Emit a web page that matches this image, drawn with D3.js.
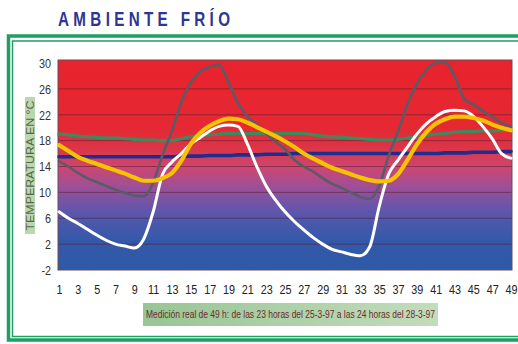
<!DOCTYPE html>
<html>
<head>
<meta charset="utf-8">
<script src="https://cdn.jsdelivr.net/npm/d3@7"></script>
<style>
  html, body { margin: 0; padding: 0; background: #ffffff; }
  svg { display: block; }
</style>
</head>
<body>
<svg id="chart" width="518" height="344"></svg>
<script>
// Hours of the 49 h measurement
const hours = d3.range(1, 50);

// Temperature series (°C), one value per hour
const exterior = [14.8,14.0,13.0,12.2,11.6,11.0,10.4,9.9,9.5,9.4,11.5,15.8,19.5,24.0,27.0,28.7,29.4,29.7,27.0,23.8,21.8,20.5,19.1,17.8,16.7,15.0,14.0,13.2,12.2,11.3,10.7,10.0,9.3,9.0,11.0,15.6,19.4,23.6,26.8,28.9,30.0,30.1,28.0,24.5,23.6,22.6,21.7,20.7,20.2];
const blanca = [7.0,6.0,5.2,4.3,3.4,2.6,2.0,1.7,1.4,2.8,7.0,12.8,14.7,16.0,17.5,18.5,19.5,20.2,20.4,20.2,17.5,14.0,11.0,8.8,7.0,5.5,4.2,3.0,2.0,1.2,0.8,0.4,0.2,1.6,7.8,12.8,15.0,17.0,19.0,20.6,21.7,22.5,22.7,22.6,21.8,20.2,18.3,16.0,15.3];
const amarilla = [17.3,16.4,15.5,14.9,14.4,13.9,13.4,12.9,12.3,11.8,11.8,12.2,13.0,14.9,17.5,19.2,20.3,21.0,21.4,21.3,20.8,20.1,19.4,18.7,17.9,17.0,16.0,15.2,14.5,13.8,13.3,12.8,12.3,11.9,11.7,11.8,12.8,15.0,17.4,19.3,20.6,21.3,21.7,21.7,21.5,21.1,20.5,20.0,19.6];
const verde = [19.0,18.9,18.7,18.6,18.5,18.4,18.4,18.3,18.2,18.1,18.1,18.0,18.0,18.3,18.6,18.8,18.9,19.0,19.1,19.1,19.1,19.1,19.1,19.1,19.1,19.1,19.1,18.9,18.7,18.6,18.5,18.4,18.3,18.2,18.1,18.1,18.2,18.4,18.6,18.8,19.0,19.1,19.3,19.4,19.4,19.5,19.5,19.6,19.6];
const azul = [15.5,15.5,15.5,15.5,15.5,15.5,15.5,15.5,15.5,15.5,15.5,15.5,15.5,15.6,15.6,15.6,15.7,15.7,15.7,15.8,15.8,15.8,15.9,15.9,15.9,16.0,16.0,16.0,16.0,16.0,16.0,16.0,16.0,16.0,16.0,16.0,16.0,16.0,16.0,16.0,16.0,16.1,16.1,16.1,16.2,16.2,16.2,16.3,16.3];

// Axis ticks
const yTicks = [30, 26, 22, 18, 14, 10, 6, 2, -2];
const xTicks = d3.range(1, 50, 2);

const title = "AMBIENTE FRÍO";
const yTitle = "TEMPERATURA EN °C";
const caption = "Medición real de 49 h: de las 23 horas del 25-3-97 a las 24 horas del 28-3-97";

const narrow = "'Liberation Sans', Arial, sans-serif";
const svg = d3.select("#chart");
const plot = { left: 58, right: 512, top: 60, bottom: 270 };

const x = d3.scalePoint().domain(hours).range([59, 511]);
const y = d3.scaleLinear().domain([-2, 30]).range([270, 63]);

const defs = svg.append("defs");
const bg = defs.append("linearGradient")
  .attr("id", "bg").attr("x1", 0).attr("y1", 0).attr("x2", 0).attr("y2", 1);
[
  [0.00, "#e8232d"],
  [0.32, "#e52832"],
  [0.42, "#dc3548"],
  [0.51, "#cd4670"],
  [0.59, "#a54e92"],
  [0.67, "#7853a6"],
  [0.75, "#5158ad"],
  [0.86, "#3458a9"],
  [1.00, "#2d5aa7"]
].forEach(([o, c]) => bg.append("stop").attr("offset", o).attr("stop-color", c));

const capGrad = defs.append("linearGradient")
  .attr("id", "cap").attr("x1", 0).attr("y1", 0).attr("x2", 1).attr("y2", 0);
capGrad.append("stop").attr("offset", 0).attr("stop-color", "#98c595");
capGrad.append("stop").attr("offset", 1).attr("stop-color", "#c3dcbc");

// Title, condensed horizontally
const tScale = 0.78;
svg.append("text")
  .attr("transform", `scale(${tScale},1)`)
  .attr("x", 58 / tScale).attr("y", 26)
  .attr("textLength", 172 / tScale).attr("lengthAdjust", "spacing")
  .attr("font-family", narrow)
  .attr("font-weight", "bold").attr("font-size", 19.5)
  .attr("fill", "#2e3592")
  .text(title);

// Green double frame
svg.append("rect").attr("x", 8.5).attr("y", 36).attr("width", 520).attr("height", 304)
  .attr("fill", "none").attr("stroke", "#1f9f62").attr("stroke-width", 3.5);
svg.append("rect").attr("x", 12.5).attr("y", 41).attr("width", 520).attr("height", 295.5)
  .attr("fill", "none").attr("stroke", "#1f9f62").attr("stroke-width", 1.5);

// Plot background
svg.append("rect")
  .attr("x", plot.left).attr("y", plot.top)
  .attr("width", plot.right - plot.left).attr("height", plot.bottom - plot.top)
  .attr("fill", "url(#bg)");

// Horizontal grid
svg.append("g").selectAll("line")
  .data(yTicks.filter(d => d > -2 && d < 30))
  .join("line")
  .attr("x1", plot.left).attr("x2", plot.right)
  .attr("y1", d => y(d)).attr("y2", d => y(d))
  .attr("stroke", "#5a1a30").attr("stroke-opacity", 0.55).attr("stroke-width", 1);

// Plot border
svg.append("rect")
  .attr("x", plot.left).attr("y", plot.top)
  .attr("width", plot.right - plot.left).attr("height", plot.bottom - plot.top)
  .attr("fill", "none").attr("stroke", "#6a4a5a").attr("stroke-width", 1);

// Y axis
const yAxis = svg.append("g")
  .attr("transform", `translate(${51},0)`)
  .call(d3.axisLeft(y).tickValues(yTicks).tickSize(0).tickPadding(0).tickFormat(d => d));
yAxis.select(".domain").remove();
yAxis.selectAll("text")
  .attr("transform", "scale(0.8,1)")
  .attr("font-family", narrow)
  .attr("font-size", 13.5).attr("fill", "#333");

// X axis
const xAxis = svg.append("g")
  .attr("transform", `translate(0,${284})`)
  .call(d3.axisBottom(x).tickValues(xTicks).tickSize(0).tickPadding(0));
xAxis.select(".domain").remove();
xAxis.selectAll("text")
  .attr("transform", "scale(0.8,1)")
  .attr("font-family", narrow)
  .attr("font-size", 13.5).attr("fill", "#222");

// Y title in a green tag
svg.append("rect").attr("x", 25).attr("y", 97).attr("width", 10).attr("height", 137)
  .attr("fill", "#b9d8b0");
svg.append("text")
  .attr("transform", "translate(33.5,165.5) rotate(-90)")
  .attr("text-anchor", "middle")
  .attr("textLength", 130).attr("lengthAdjust", "spacingAndGlyphs")
  .attr("font-family", narrow)
  .attr("font-size", 10).attr("fill", "#56664a")
  .text(yTitle);

// Caption tag
svg.append("rect").attr("x", 143).attr("y", 303).attr("width", 295).attr("height", 23)
  .attr("fill", "url(#cap)");
svg.append("text")
  .attr("x", 146).attr("y", 318)
  .attr("textLength", 289).attr("lengthAdjust", "spacingAndGlyphs")
  .attr("font-family", narrow)
  .attr("font-size", 10).attr("fill", "#6e2a2a")
  .text(caption);

// Series lines
const line = d3.line().x((d, i) => x(hours[i])).y(d => y(d)).curve(d3.curveMonotoneX);
const series = [
  { values: verde, color: "#3f8a5c", width: 3.2 },
  { values: azul, color: "#1d2e8e", width: 3.6 },
  { values: exterior, color: "#5b5b68", width: 2.6 },
  { values: blanca, color: "#ffffff", width: 3 },
  { values: amarilla, color: "#f7c200", width: 4.2 }
];
svg.append("g").selectAll("path")
  .data(series)
  .join("path")
  .attr("d", d => line(d.values))
  .attr("fill", "none")
  .attr("stroke", d => d.color)
  .attr("stroke-width", d => d.width)
  .attr("stroke-linejoin", "round")
  .attr("stroke-linecap", "round");
</script>
</body>
</html>
